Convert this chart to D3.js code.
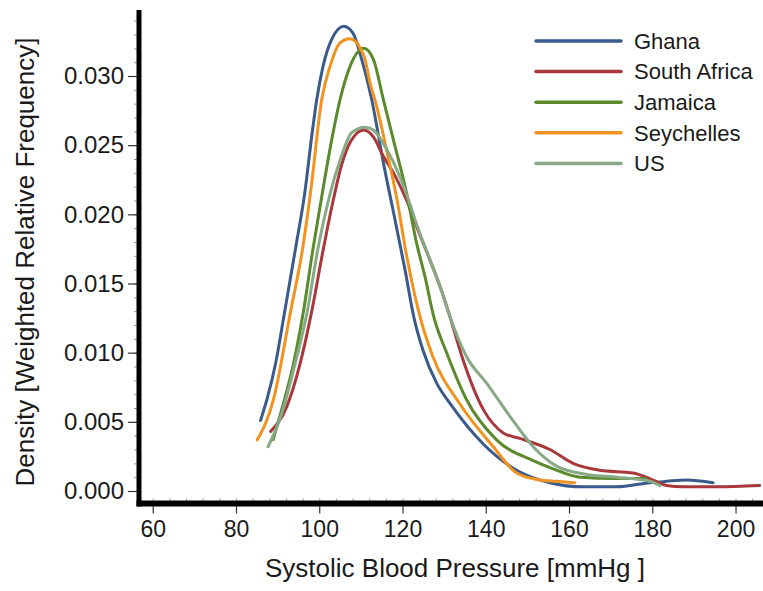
<!DOCTYPE html>
<html>
<head>
<meta charset="utf-8">
<script src="https://cdn.jsdelivr.net/npm/d3@7"></script>
<style>
  body { margin: 0; background: #fff; }
  svg { display: block; font-family: "Liberation Sans", Arial, sans-serif; }
</style>
</head>
<body>
<svg id="chart" width="763" height="591"></svg>
<script>
// density curves: [systolic BP (mmHg), weighted relative frequency]
const ghana = [
  [85.9, 0.0051], [87.6, 0.0068], [89.5, 0.0092], [91.6, 0.0128], [94.4, 0.0177],
  [96.5, 0.0215], [98.3, 0.0259], [99.4, 0.0283], [100.9, 0.0307], [102.9, 0.0326],
  [105.9, 0.0336], [108.1, 0.0331], [110.2, 0.0312], [112.6, 0.0283], [115.3, 0.0239],
  [118.2, 0.0196], [120.6, 0.0160], [122.7, 0.0126], [125, 0.0101], [128.2, 0.0078],
  [131.5, 0.0063], [139.4, 0.0034], [147.4, 0.0015], [155.4, 0.0006], [163.4, 0.0003],
  [171.4, 0.0003], [179.4, 0.0006], [183.4, 0.0007], [188.2, 0.0008], [194.6, 0.0006]
];
const southAfrica = [
  [88.3, 0.0043], [92.2, 0.0061], [95.4, 0.0092], [98.2, 0.0130], [100.8, 0.0172],
  [103.2, 0.0208], [105.4, 0.0236], [107.6, 0.0253], [110.7, 0.0261], [113, 0.0256],
  [115.4, 0.0242], [118.2, 0.0228], [121, 0.0210], [123.4, 0.0191], [126.6, 0.0167],
  [129, 0.0148], [131.4, 0.0126], [134.2, 0.0098], [139.4, 0.0059], [144.2, 0.0042],
  [148.2, 0.0038], [155.4, 0.0030], [161, 0.0020], [167.4, 0.0015], [175.4, 0.0013],
  [179.4, 0.0009], [183.4, 0.0004], [187.4, 0.0003], [195.4, 0.0003], [205.8, 0.0004]
];
const jamaica = [
  [88.9, 0.0037], [91, 0.0059], [93.8, 0.0092], [96.1, 0.0128], [98.6, 0.0177],
  [101, 0.0220], [103, 0.0254], [105, 0.0283], [107.4, 0.0307], [110.7, 0.0320],
  [113, 0.0312], [115.4, 0.0283], [117.8, 0.0254], [121, 0.0215], [123.4, 0.0179],
  [125.4, 0.0155], [127.5, 0.0126], [130.6, 0.0100], [135.4, 0.0066], [142.6, 0.0037],
  [151.4, 0.0022], [156.2, 0.0016], [162.6, 0.0010], [171.4, 0.0009], [178.6, 0.0009]
];
const seychelles = [
  [85.1, 0.0037], [89, 0.0066], [93, 0.0128], [96.1, 0.0177], [98, 0.0218],
  [100.6, 0.0283], [102.6, 0.0307], [105, 0.0324], [107.4, 0.0327], [109.5, 0.0322],
  [111, 0.0312], [112.2, 0.0295], [113.8, 0.0278], [116.2, 0.0246], [118.6, 0.0212],
  [121, 0.0170], [124.2, 0.0126], [127.2, 0.0098], [134, 0.0062], [141.8, 0.0032],
  [147.4, 0.0013], [153, 0.0008], [157, 0.0007], [161.4, 0.0006]
];
const us = [
  [87.7, 0.0032], [91, 0.0056], [94.2, 0.0092], [97, 0.0128], [99.8, 0.0177],
  [102.2, 0.0210], [105, 0.0239], [107.8, 0.0259], [111, 0.0263], [113, 0.0261],
  [116.2, 0.0247], [119.4, 0.0227], [121.5, 0.0210], [123.6, 0.0191], [126.6, 0.0167],
  [129, 0.0148], [131.4, 0.0126], [135.4, 0.0097], [140.2, 0.0078], [145.8, 0.0054],
  [151.4, 0.0032], [157, 0.0018], [164.2, 0.0012], [171.4, 0.0010], [179.4, 0.0007],
  [181.8, 0.0004]
];

const seriesNames = ["Ghana", "South Africa", "Jamaica", "Seychelles", "US"];
const seriesData = [ghana, southAfrica, jamaica, seychelles, us];
const seriesColors = ["#3a5a8c", "#a8383b", "#5b8a2c", "#f0931f", "#87a985"];

const xTicks = [60, 80, 100, 120, 140, 160, 180, 200];
const yTicks = [0, 0.005, 0.010, 0.015, 0.020, 0.025, 0.030];

const svg = d3.select("#chart");

const x = d3.scaleLinear().domain([56.7, 206.6]).range([139, 763]);
const y = d3.scaleLinear().domain([0, 0.03]).range([491, 76]);

const axisX = 139;   // y-axis line position
const axisY = 503.5; // x-axis line position
const yTop = 10;

// minor ticks
svg.append("g")
  .attr("transform", `translate(${axisX - 2},0)`)
  .call(d3.axisLeft(y).tickValues(d3.range(0, 0.0341, 0.001)).tickSize(3).tickFormat(""))
  .call((g) => g.select(".domain").remove())
  .call((g) => g.selectAll("line").attr("stroke", "#999"));

svg.append("g")
  .attr("transform", `translate(0,${axisY - 3})`)
  .call(d3.axisTop(x).tickValues(d3.range(60, 206, 4)).tickSize(2).tickFormat(""))
  .call((g) => g.select(".domain").remove())
  .call((g) => g.selectAll("line").attr("stroke", "#999"));

// major axes
const yAxis = svg.append("g")
  .attr("transform", `translate(${axisX},0)`)
  .call(d3.axisLeft(y).tickValues(yTicks).tickSize(11).tickPadding(4).tickFormat(d3.format(".3f")));
yAxis.select(".domain").remove();
yAxis.selectAll("line").attr("stroke", "#333").attr("stroke-width", 1.2);
yAxis.selectAll("text").attr("font-size", 24).attr("fill", "#1a1a1a")
  .attr("font-family", "Liberation Sans, Arial, sans-serif");

const xAxis = svg.append("g")
  .attr("transform", `translate(0,${axisY})`)
  .call(d3.axisBottom(x).tickValues(xTicks).tickSize(10).tickPadding(7));
xAxis.select(".domain").remove();
xAxis.selectAll("line").attr("stroke", "#333").attr("stroke-width", 1.2);
xAxis.selectAll("text").attr("font-size", 23).attr("fill", "#1a1a1a")
  .attr("font-family", "Liberation Sans, Arial, sans-serif");

// thick axis lines
svg.append("line")
  .attr("x1", axisX).attr("x2", axisX)
  .attr("y1", yTop).attr("y2", axisY + 3)
  .attr("stroke", "#000").attr("stroke-width", 5);
svg.append("line")
  .attr("x1", axisX - 2.5).attr("x2", 763)
  .attr("y1", axisY).attr("y2", axisY)
  .attr("stroke", "#000").attr("stroke-width", 6);

// curves
const line = d3.line()
  .x((d) => x(d[0]))
  .y((d) => y(d[1]))
  .curve(d3.curveMonotoneX);

svg.append("g")
  .selectAll("path")
  .data(seriesData)
  .enter()
  .append("path")
  .attr("d", line)
  .attr("fill", "none")
  .attr("stroke", (d, i) => seriesColors[i])
  .attr("stroke-width", 3)
  .attr("stroke-linecap", "round")
  .attr("stroke-linejoin", "round");

// axis titles
svg.append("text")
  .attr("x", 455)
  .attr("y", 577)
  .attr("text-anchor", "middle")
  .attr("font-size", 26)
  .attr("fill", "#1a1a1a")
  .text("Systolic Blood Pressure [mmHg ]");

svg.append("text")
  .attr("transform", "translate(34,262) rotate(-90)")
  .attr("text-anchor", "middle")
  .attr("font-size", 26)
  .attr("fill", "#1a1a1a")
  .text("Density [Weighted Relative Frequency]");

// legend
const legendG = svg.append("g")
  .attr("transform", "translate(536,41)")
  .selectAll(".legend")
  .data(seriesNames)
  .enter()
  .append("g")
  .attr("class", "legend")
  .attr("transform", (d, i) => `translate(0, ${i * 30.6})`);

legendG.append("line")
  .attr("x1", 0).attr("x2", 85)
  .attr("stroke", (d, i) => seriesColors[i])
  .attr("stroke-width", 3.5)
  .attr("stroke-linecap", "round");

legendG.append("text")
  .attr("x", 98)
  .attr("dy", "0.35em")
  .attr("font-size", 22)
  .attr("fill", "#1a1a1a")
  .text((d) => d);
</script>
</body>
</html>
